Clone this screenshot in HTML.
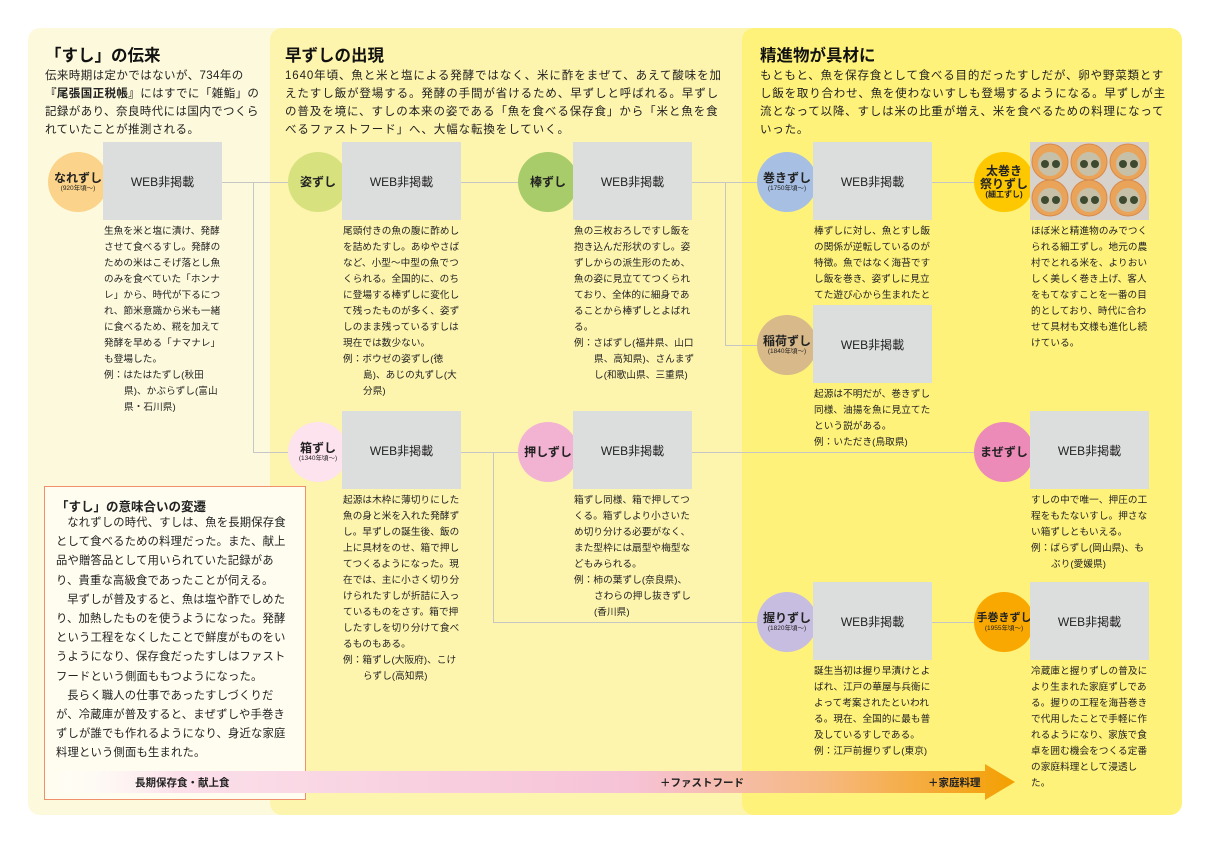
<!DOCTYPE html>
<html><head><meta charset="utf-8"><style>
*{margin:0;padding:0;box-sizing:border-box}
body{width:1209px;height:860px;background:#fff;position:relative;overflow:hidden;font-family:"Liberation Sans","Noto Sans CJK JP",sans-serif;color:#222}
.a{position:absolute}
.p{position:absolute;top:28px;height:787px;border-radius:12px}
.t{position:absolute;font-size:16.5px;font-weight:bold;color:#111}
.d{position:absolute;font-size:11.5px;line-height:18px;color:#222;letter-spacing:.9px}
.c{position:absolute;width:60px;height:60px;border-radius:50%;display:flex;flex-direction:column;align-items:center;justify-content:center;font-size:12px;font-weight:bold;line-height:13px;text-align:center;z-index:1}
.c small{font-size:6.5px;font-weight:normal;line-height:8px}
.b{position:absolute;width:119px;height:78px;background:#dcdddd;display:flex;align-items:center;justify-content:center;font-size:12px;z-index:2}
.x{position:absolute;width:122px;font-size:9.6px;line-height:16px;letter-spacing:.1px}
.i{padding-left:20px;text-indent:-20px}
.h{position:absolute;height:1px;background:#c6c6c6}
.v{position:absolute;width:1px;background:#c6c6c6}
</style></head><body>
<div class="p" style="left:28px;width:290px;background:#fdf9dc"></div>
<div class="p" style="left:270px;width:520px;background:#fdf4ad"></div>
<div class="p" style="left:742px;width:440px;background:#fef27a"></div>

<div class="t" style="left:45px;top:42px">「すし」の伝来</div>
<div class="d" style="left:45px;top:67px;width:222px;letter-spacing:.4px">伝来時期は定かではないが、734年の<b>『尾張国正税帳』</b>にはすでに「雑鮨」の記録があり、奈良時代には国内でつくられていたことが推測される。</div>
<div class="t" style="left:285px;top:42px">早ずしの出現</div>
<div class="d" style="left:285px;top:67px;width:445px">1640年頃、魚と米と塩による発酵ではなく、米に酢をまぜて、あえて酸味を加えたすし飯が登場する。発酵の手間が省けるため、早ずしと呼ばれる。早ずしの普及を境に、すしの本来の姿である「魚を食べる保存食」から「米と魚を食べるファストフード」へ、大幅な転換をしていく。</div>
<div class="t" style="left:760px;top:42px">精進物が具材に</div>
<div class="d" style="left:760px;top:67px;width:408px;letter-spacing:.8px">もともと、魚を保存食として食べる目的だったすしだが、卵や野菜類とすし飯を取り合わせ、魚を使わないすしも登場するようになる。早ずしが主流となって以降、すしは米の比重が増え、米を食べるための料理になっていった。</div>

<!-- connectors -->
<div class="h" style="left:220px;top:182px;width:70px"></div>
<div class="v" style="left:253px;top:182px;height:271px"></div>
<div class="h" style="left:253px;top:452px;width:37px"></div>
<div class="h" style="left:461px;top:182px;width:60px"></div>
<div class="h" style="left:692px;top:182px;width:68px"></div>
<div class="v" style="left:725px;top:182px;height:164px"></div>
<div class="h" style="left:725px;top:345px;width:35px"></div>
<div class="h" style="left:932px;top:182px;width:45px"></div>
<div class="h" style="left:461px;top:452px;width:60px"></div>
<div class="h" style="left:692px;top:452px;width:285px"></div>
<div class="v" style="left:493px;top:452px;height:171px"></div>
<div class="h" style="left:493px;top:622px;width:267px"></div>
<div class="h" style="left:932px;top:622px;width:45px"></div>

<!-- nodes -->
<div class="c" style="left:48px;top:152px;background:#fbd38a">なれずし<small>(920年頃～)</small></div>
<div class="b" style="left:103px;top:142px">WEB非掲載</div>
<div class="x" style="left:104px;top:224px">生魚を米と塩に漬け、発酵させて食べるすし。発酵のための米はこそげ落とし魚のみを食べていた「ホンナレ」から、時代が下るにつれ、節米意識から米も一緒に食べるため、糀を加えて発酵を早める「ナマナレ」も登場した。<div class="i">例：はたはたずし(秋田県)、かぶらずし(富山県・石川県)</div></div>

<div class="c" style="left:288px;top:152px;background:#d7e27f">姿ずし</div>
<div class="b" style="left:342px;top:142px">WEB非掲載</div>
<div class="x" style="left:343px;top:224px">尾頭付きの魚の腹に酢めしを詰めたすし。あゆやさばなど、小型～中型の魚でつくられる。全国的に、のちに登場する棒ずしに変化して残ったものが多く、姿ずしのまま残っているすしは現在では数少ない。<div class="i">例：ボウゼの姿ずし(徳島)、あじの丸ずし(大分県)</div></div>

<div class="c" style="left:518px;top:152px;background:#a8cc6a">棒ずし</div>
<div class="b" style="left:573px;top:142px">WEB非掲載</div>
<div class="x" style="left:574px;top:224px">魚の三枚おろしですし飯を抱き込んだ形状のすし。姿ずしからの派生形のため、魚の姿に見立ててつくられており、全体的に細身であることから棒ずしとよばれる。<div class="i">例：さばずし(福井県、山口県、高知県)、さんまずし(和歌山県、三重県)</div></div>

<div class="c" style="left:757px;top:152px;background:#a7bfe3">巻きずし<small>(1750年頃～)</small></div>
<div class="b" style="left:813px;top:142px">WEB非掲載</div>
<div class="x" style="left:814px;top:224px">棒ずしに対し、魚とすし飯の関係が逆転しているのが特徴。魚ではなく海苔ですし飯を巻き、姿ずしに見立てた遊び心から生まれたという。</div>

<div class="c" style="left:974px;top:152px;background:#fdc800">太巻き<br>祭りずし<small style="font-size:8px;font-weight:bold">(細工ずし)</small></div>
<div class="a" style="left:1030px;top:142px;width:119px;height:78px;background:#d8d2cc;overflow:hidden;z-index:2">
<svg width="119" height="78"><g fill="#e9a45a" stroke="#d88a4a"><circle cx="20" cy="20" r="18"/><circle cx="59" cy="20" r="18"/><circle cx="98" cy="20" r="18"/><circle cx="20" cy="56" r="18"/><circle cx="59" cy="56" r="18"/><circle cx="98" cy="56" r="18"/></g><g fill="#c7c0a8"><circle cx="20" cy="22" r="12"/><circle cx="59" cy="22" r="12"/><circle cx="98" cy="22" r="12"/><circle cx="20" cy="58" r="12"/><circle cx="59" cy="58" r="12"/><circle cx="98" cy="58" r="12"/></g><g fill="#3d4a30"><circle cx="15" cy="22" r="4"/><circle cx="26" cy="22" r="4"/><circle cx="54" cy="22" r="4"/><circle cx="65" cy="22" r="4"/><circle cx="93" cy="22" r="4"/><circle cx="104" cy="22" r="4"/><circle cx="15" cy="58" r="4"/><circle cx="26" cy="58" r="4"/><circle cx="54" cy="58" r="4"/><circle cx="65" cy="58" r="4"/><circle cx="93" cy="58" r="4"/><circle cx="104" cy="58" r="4"/></g></svg></div>
<div class="x" style="left:1031px;top:224px">ほぼ米と精進物のみでつくられる細工ずし。地元の農村でとれる米を、よりおいしく美しく巻き上げ、客人をもてなすことを一番の目的としており、時代に合わせて具材も文様も進化し続けている。</div>

<div class="c" style="left:757px;top:315px;background:#d8b98a">稲荷ずし<small>(1840年頃～)</small></div>
<div class="b" style="left:813px;top:305px">WEB非掲載</div>
<div class="x" style="left:814px;top:387px">起源は不明だが、巻きずし同様、油揚を魚に見立てたという説がある。<div class="i">例：いただき(鳥取県)</div></div>

<div class="c" style="left:288px;top:422px;background:#fde3ee">箱ずし<small>(1340年頃～)</small></div>
<div class="b" style="left:342px;top:411px">WEB非掲載</div>
<div class="x" style="left:343px;top:493px">起源は木枠に薄切りにした魚の身と米を入れた発酵ずし。早ずしの誕生後、飯の上に具材をのせ、箱で押してつくるようになった。現在では、主に小さく切り分けられたすしが折詰に入っているものをさす。箱で押したすしを切り分けて食べるものもある。<div class="i">例：箱ずし(大阪府)、こけらずし(高知県)</div></div>

<div class="c" style="left:518px;top:422px;background:#f2b3d3">押しずし</div>
<div class="b" style="left:573px;top:411px">WEB非掲載</div>
<div class="x" style="left:574px;top:493px">箱ずし同様、箱で押してつくる。箱ずしより小さいため切り分ける必要がなく、また型枠には扇型や梅型などもみられる。<div class="i">例：柿の葉ずし(奈良県)、さわらの押し抜きずし(香川県)</div></div>

<div class="c" style="left:974px;top:422px;background:#ec8ab8">まぜずし</div>
<div class="b" style="left:1030px;top:411px">WEB非掲載</div>
<div class="x" style="left:1031px;top:493px">すしの中で唯一、押圧の工程をもたないすし。押さない箱ずしともいえる。<div class="i">例：ばらずし(岡山県)、もぶり(愛媛県)</div></div>

<div class="c" style="left:757px;top:592px;background:#c7bde0">握りずし<small>(1820年頃～)</small></div>
<div class="b" style="left:813px;top:582px">WEB非掲載</div>
<div class="x" style="left:814px;top:664px">誕生当初は握り早漬けとよばれ、江戸の華屋与兵衛によって考案されたといわれる。現在、全国的に最も普及しているすしである。<div class="i">例：江戸前握りずし(東京)</div></div>

<div class="c" style="left:974px;top:592px;background:#f8a800;font-size:11px">手巻きずし<small>(1955年頃～)</small></div>
<div class="b" style="left:1030px;top:582px">WEB非掲載</div>
<div class="x" style="left:1031px;top:664px">冷蔵庫と握りずしの普及により生まれた家庭ずしである。握りの工程を海苔巻きで代用したことで手軽に作れるようになり、家族で食卓を囲む機会をつくる定番の家庭料理として浸透した。</div>

<!-- left box -->
<div class="a" style="left:44px;top:486px;width:262px;height:314px;background:#fffdf0;border:1px solid #f0906a"></div>
<div class="a" style="left:56px;top:496px;font-size:12.5px;font-weight:bold">「すし」の意味合いの変遷</div>
<div class="a" style="left:56px;top:514px;width:240px;font-size:11.3px;line-height:19.2px;letter-spacing:.2px">
<p style="text-indent:1em">なれずしの時代、すしは、魚を長期保存食として食べるための料理だった。また、献上品や贈答品として用いられていた記録があり、貴重な高級食であったことが伺える。</p>
<p style="text-indent:1em">早ずしが普及すると、魚は塩や酢でしめたり、加熱したものを使うようになった。発酵という工程をなくしたことで鮮度がものをいうようになり、保存食だったすしはファストフードという側面ももつようになった。</p>
<p style="text-indent:1em">長らく職人の仕事であったすしづくりだが、冷蔵庫が普及すると、まぜずしや手巻きずしが誰でも作れるようになり、身近な家庭料理という側面も生まれた。</p></div>

<!-- arrow -->
<svg class="a" style="left:0;top:0" width="1209" height="860"><defs><linearGradient id="g" x1="60" x2="1015" y1="0" y2="0" gradientUnits="userSpaceOnUse"><stop offset="0" stop-color="#fff" stop-opacity="0.2"/><stop offset="0.12" stop-color="#fbe0ea"/><stop offset="0.6" stop-color="#f6c2d6"/><stop offset="0.8" stop-color="#f6b880"/><stop offset="1" stop-color="#f4a000"/></linearGradient></defs>
<polygon points="60,771 985,771 985,764 1015,782 985,800 985,793 60,793" fill="url(#g)"/></svg>
<div class="a" style="left:135px;top:775px;font-size:10.5px;font-weight:bold">長期保存食・献上食</div>
<div class="a" style="left:660px;top:775px;font-size:10.5px;font-weight:bold">＋ファストフード</div>
<div class="a" style="left:928px;top:775px;font-size:10.5px;font-weight:bold">＋家庭料理</div>
</body></html>
